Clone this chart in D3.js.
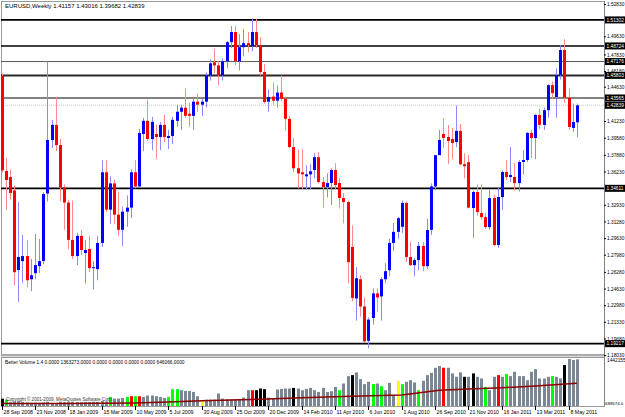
<!DOCTYPE html>
<html>
<head>
<meta charset="utf-8">
<script src="https://cdn.jsdelivr.net/npm/d3@7"></script>
<style>
  body { margin: 0; background: #fff; }
  svg { display: block; font-family: "Liberation Sans", Arial, sans-serif; }
</style>
</head>
<body>
<svg id="chart" width="625" height="417"></svg>
<script>
// Weekly EURUSD candles, 28 Sep 2008 .. 22 May 2011 (one entry per week)
var opens = [1.4575,1.3633,1.3573,1.3440,1.2652,1.2740,1.2790,1.2560,1.2620,1.2690,
  1.2740,1.3410,1.3940,1.4088,1.3890,1.3470,1.3320,1.2950,1.2790,1.2990,
  1.2820,1.2860,1.2670,1.2660,1.2920,1.3620,1.3250,1.3510,1.3200,1.3050,
  1.3230,1.3270,1.3620,1.3480,1.4000,1.4130,1.3950,1.4000,1.3970,1.4090,
  1.3960,1.3980,1.4130,1.4220,1.4260,1.4200,1.4180,1.4320,1.4290,1.4320,
  1.4580,1.4710,1.4680,1.4580,1.4720,1.4910,1.5010,1.4720,1.4860,1.4900,
  1.4870,1.5010,1.4880,1.4614,1.4320,1.4370,1.4330,1.4410,1.4350,1.4150,
  1.3870,1.3660,1.3620,1.3580,1.3600,1.3643,1.3770,1.3524,1.3474,1.3514,
  1.3643,1.3514,1.3365,1.3325,1.2880,1.2370,1.2560,1.2290,1.1950,1.2176,
  1.2420,1.2390,1.2560,1.2650,1.2920,1.3030,1.3080,1.3316,1.2780,1.2700,
  1.2750,1.2890,1.2690,1.3050,1.3480,1.3790,1.4000,1.3970,1.3950,1.3920,
  1.4030,1.3700,1.3720,1.3266,1.3425,1.3216,1.3176,1.3077,1.3365,1.2899,
  1.3375,1.3623,1.3573,1.3573,1.3513,1.3722,1.3742,1.4010,1.3960,1.4188,
  1.4090,1.4236,1.4484,1.4366,1.4583,1.4832,1.4360,1.4059,1.41157];
var highs = [1.4600,1.3763,1.3650,1.3490,1.3326,1.3000,1.2950,1.2760,1.3010,1.2960,
  1.3420,1.4720,1.4140,1.4366,1.3950,1.3500,1.3350,1.3340,1.3020,1.3050,
  1.2950,1.2990,1.2740,1.2990,1.3740,1.3740,1.3580,1.3550,1.3430,1.3280,
  1.3390,1.3650,1.3740,1.4050,1.4160,1.4340,1.4170,1.4090,1.4120,1.4190,
  1.4040,1.4170,1.4290,1.4290,1.4450,1.4310,1.4350,1.4400,1.4350,1.4610,
  1.4740,1.4844,1.4720,1.4750,1.4920,1.5070,1.5070,1.4990,1.5040,1.5010,
  1.5144,1.5140,1.4960,1.4690,1.4440,1.4510,1.4480,1.4580,1.4370,1.4180,
  1.3960,1.3840,1.3850,1.3690,1.3700,1.3810,1.3820,1.3570,1.3610,1.3660,
  1.3710,1.3560,1.3415,1.3340,1.3094,1.2680,1.2600,1.2380,1.2180,1.2470,
  1.2470,1.2580,1.2720,1.2960,1.3118,1.3180,1.3340,1.3330,1.2930,1.2770,
  1.2930,1.2930,1.3160,1.3510,1.3790,1.4040,1.4160,1.4088,1.4060,1.4282,
  1.4100,1.3810,1.3790,1.3440,1.3500,1.3500,1.3220,1.3445,1.3400,1.3470,
  1.3640,1.3742,1.3870,1.3712,1.3740,1.3840,1.4020,1.4040,1.4200,1.4250,
  1.4260,1.4490,1.4520,1.4650,1.4880,1.4939,1.4450,1.4300,1.43016];
var lows = [1.3620,1.3247,1.3350,1.2500,1.2334,1.2520,1.2480,1.2440,1.2560,1.2620,
  1.2710,1.3330,1.3860,1.3830,1.3330,1.3050,1.2860,1.2760,1.2700,1.2800,
  1.2520,1.2630,1.2460,1.2550,1.2880,1.3230,1.3110,1.3110,1.2990,1.2890,
  1.3080,1.3170,1.3460,1.3470,1.3830,1.3930,1.3840,1.3750,1.3840,1.3920,
  1.3850,1.3900,1.4070,1.4040,1.4160,1.4070,1.4040,1.4220,1.4180,1.4260,
  1.4530,1.4600,1.4480,1.4530,1.4650,1.4850,1.4680,1.4630,1.4770,1.4810,
  1.4820,1.4850,1.4580,1.4300,1.4220,1.4290,1.4260,1.4330,1.4030,1.3860,
  1.3620,1.3460,1.3450,1.3450,1.3450,1.3560,1.3510,1.3270,1.3370,1.3296,
  1.3450,1.3260,1.3115,1.2520,1.2340,1.2150,1.2190,1.1930,1.1876,1.2110,
  1.2240,1.2150,1.2520,1.2590,1.2840,1.2960,1.3020,1.2730,1.2690,1.2590,
  1.2650,1.2640,1.2660,1.3000,1.3440,1.3790,1.3860,1.3700,1.3750,1.3870,
  1.3690,1.3560,1.3260,1.2970,1.3190,1.3150,1.3060,1.3050,1.2890,1.2870,
  1.3246,1.3543,1.3523,1.3440,1.3430,1.3600,1.3720,1.3760,1.3750,1.4050,
  1.4040,1.4160,1.4350,1.4160,1.4540,1.4310,1.4040,1.4020,1.39682];
var closes = [1.3640,1.3544,1.3415,1.2630,1.2781,1.2790,1.2550,1.2600,1.2700,1.2740,
  1.3405,1.3940,1.4090,1.3890,1.3470,1.3320,1.2950,1.2790,1.2990,1.2850,
  1.2850,1.2670,1.2680,1.2920,1.3620,1.3250,1.3510,1.3200,1.3050,1.3230,
  1.3270,1.3620,1.3480,1.4010,1.4130,1.3950,1.4120,1.3970,1.4090,1.3970,
  1.3980,1.4140,1.4220,1.4260,1.4180,1.4180,1.4320,1.4290,1.4320,1.4580,
  1.4700,1.4680,1.4580,1.4720,1.4910,1.5010,1.4720,1.4860,1.4900,1.4880,
  1.5010,1.4880,1.4614,1.4317,1.4365,1.4330,1.4410,1.4350,1.4150,1.3870,
  1.3660,1.3610,1.3600,1.3600,1.3630,1.3770,1.3524,1.3474,1.3514,1.3643,
  1.3494,1.3365,1.3325,1.2730,1.2375,1.2570,1.2290,1.1945,1.2160,1.2420,
  1.2380,1.2560,1.2640,1.2920,1.3030,1.3165,1.3316,1.2780,1.2700,1.2750,
  1.2890,1.2690,1.3048,1.3480,1.3790,1.3940,1.3960,1.3930,1.3910,1.4030,
  1.3700,1.3680,1.3270,1.3425,1.3226,1.3176,1.3077,1.3365,1.2899,1.3375,
  1.3623,1.3573,1.3593,1.3513,1.3722,1.3742,1.4010,1.3960,1.4188,1.4090,
  1.4236,1.4484,1.4405,1.4583,1.4832,1.4360,1.4069,1.4118,1.42839];

// Better Volume histogram (thousands) and bar colour codes
var volumes = [225,195,120,140,150,120,110,100,105,100,110,130,90,95,130,120,125,130,120,115,
  125,120,130,125,150,140,278,228,228,247,278,300,300,300,278,321,321,300,278,247,
  278,516,516,485,463,463,432,300,176,195,195,195,383,228,207,207,207,207,259,485,
  485,485,537,516,259,228,506,525,537,537,556,537,485,525,556,485,432,556,432,454,
  587,485,690,917,948,1031,824,670,742,670,690,608,485,711,330,772,670,742,793,722,
  485,772,948,1020,1173,1225,1173,1173,1000,896,1031,896,896,1000,896,846,587,485,896,948,
  896,979,917,1050,917,917,793,1050,1133,846,846,896,917,896,846,1257,1442.155,1411,1432];
var volColors = ('kgssssssssssssssssssssssssgsssgrgrssssssgggsssssysssssssssss' +
  'rkkksssssskssssssssssgsskssssgsgsssygsssgsssssrsssskskssgssrsg' +
  'ssssssssssgsskssss').split('');
var volMaBars = [0, 16, 32, 40, 48, 60, 72, 84, 96, 105, 112, 120, 128, 138];
var volMaValues = [75, 75, 90, 120, 160, 200, 250, 300, 340, 480, 520, 560, 610, 700];

var levels = [1.51302, 1.48724, 1.47176, 1.45803, 1.43565, 1.34611, 1.19217];
var levelColors = ['#000', '#000', '#555', '#2a2a2a', '#5a5a5a', '#000', '#000'];
var levelWidths = [1.6, 1.6, 1, 2, 1.5, 1.6, 1.6];
var lastPrice = 1.42839;
var priceTicks = ['1.52830', '1.49630', '1.47830', '1.46180', '1.44630', '1.41230', '1.39580',
  '1.37880', '1.36230', '1.32930', '1.31280', '1.29630', '1.27980', '1.26280', '1.24630',
  '1.22980', '1.21330', '1.19680', '1.18030'];
var dateBars = [0, 8, 16, 24, 32, 40, 48, 56, 64, 72, 80, 88, 96, 104, 112, 120, 128, 136];
var dateLabels = ['28 Sep 2008', '23 Nov 2008', '18 Jan 2009', '15 Mar 2009', '10 May 2009',
  '5 Jul 2009', '30 Aug 2009', '25 Oct 2009', '20 Dec 2009', '14 Feb 2010', '11 Apr 2010',
  '6 Jun 2010', '1 Aug 2010', '26 Sep 2010', '21 Nov 2010', '16 Jan 2011', '13 Mar 2011',
  '8 May 2011'];
var titleText = 'EURUSD,Weekly  1.41157 1.43016 1.39682 1.42839';
var volumeText = 'Better Volume 1.4 0.0000 1363273.0000 0.0000 0.0000 0.0000 0.0000 646066.0000';

// Layout
var plotLeft = 1, plotRight = 604;
var mainTop = 1, mainBottom = 354;
var volTop = 357, volBottom = 406;
var axisFont = 4.8;

var colorMap = { s: '#7b8794', g: '#00ff00', r: '#ff0000', k: '#000000', y: '#ffff00' };

var svg = d3.select('#chart');

var x = d3.scaleLinear().domain([0, opens.length - 1]).range([1.5, 576.9]);
var y = d3.scaleLinear().domain([1.18192, 1.53078]).range([mainBottom, 2]);
var yv = d3.scaleLinear().domain([0, 1442.155]).range([volBottom, 359]);

var bars = d3.range(opens.length);

// Panel frames
svg.append('rect')
  .attr('x', plotLeft + 0.5).attr('y', mainTop + 0.5)
  .attr('width', plotRight - plotLeft).attr('height', mainBottom - mainTop)
  .attr('fill', 'none').attr('stroke', '#9a9a9a');
svg.append('rect')
  .attr('x', plotLeft + 0.5).attr('y', volTop + 0.5)
  .attr('width', plotRight - plotLeft).attr('height', volBottom - volTop)
  .attr('fill', 'none').attr('stroke', '#9a9a9a');
svg.append('line')
  .attr('x1', plotLeft).attr('x2', plotRight)
  .attr('y1', 355.5).attr('y2', 355.5)
  .attr('stroke', '#b0b0b0').attr('stroke-width', 2);

// Bid line
svg.append('line')
  .attr('x1', plotLeft).attr('x2', plotRight)
  .attr('y1', y(lastPrice)).attr('y2', y(lastPrice))
  .attr('stroke', '#c8c8c8').attr('stroke-dasharray', '1,1');

// Horizontal levels
svg.append('g')
  .selectAll('line')
  .data(levels)
  .enter()
  .append('line')
  .attr('x1', plotLeft).attr('x2', plotRight)
  .attr('y1', function(d) { return y(d); })
  .attr('y2', function(d) { return y(d); })
  .attr('stroke', function(d, i) { return levelColors[i]; })
  .attr('stroke-width', function(d, i) { return levelWidths[i]; });

// Candles
var candles = svg.append('g').selectAll('.candle')
  .data(bars)
  .enter()
  .append('g')
  .classed('candle', true);

candles.append('line')
  .attr('x1', function(i) { return Math.round(x(i)) + 0.5; })
  .attr('x2', function(i) { return Math.round(x(i)) + 0.5; })
  .attr('y1', function(i) { return y(highs[i]); })
  .attr('y2', function(i) { return y(lows[i]); })
  .attr('stroke', function(i) { return closes[i] >= opens[i] ? '#8a8aff' : '#ff8a8a'; })
  .attr('stroke-width', 1);

candles.append('rect')
  .attr('x', function(i) { return Math.round(x(i)) - 1; })
  .attr('width', 3)
  .attr('y', function(i) { return y(Math.max(opens[i], closes[i])); })
  .attr('height', function(i) { return Math.max(1, Math.abs(y(opens[i]) - y(closes[i]))); })
  .attr('fill', function(i) { return closes[i] >= opens[i] ? '#0000ff' : '#ff0000'; });

// Volume histogram
svg.append('g').selectAll('rect')
  .data(bars)
  .enter()
  .append('rect')
  .attr('x', function(i) { return Math.round(x(i)) - 1; })
  .attr('width', 3)
  .attr('y', function(i) { return yv(volumes[i]); })
  .attr('height', function(i) { return volBottom - yv(volumes[i]); })
  .attr('fill', function(i) { return colorMap[volColors[i]]; });

var maLine = d3.line()
  .x(function(d, k) { return x(volMaBars[k]); })
  .y(function(d) { return yv(d); });

svg.append('path')
  .datum(volMaValues)
  .attr('d', maLine)
  .attr('fill', 'none')
  .attr('stroke', '#8b0000')
  .attr('stroke-width', 1.5);

svg.append('text')
  .attr('x', 6).attr('y', 401)
  .attr('font-size', 4.6).attr('fill', '#333')
  .text('Copyright \u00a9 2001-2009, MetaQuotes Software Corp.');

// Right price axis
svg.append('line')
  .attr('x1', plotRight + 0.5).attr('x2', plotRight + 0.5)
  .attr('y1', mainTop).attr('y2', volBottom)
  .attr('stroke', '#808080');

var tickG = svg.append('g').selectAll('g')
  .data(priceTicks)
  .enter()
  .append('g')
  .attr('transform', function(d) { return 'translate(0,' + y(+d) + ')'; });
tickG.append('line')
  .attr('x1', plotRight).attr('x2', plotRight + 2)
  .attr('stroke', '#000');
tickG.append('text')
  .attr('x', 607).attr('dy', '0.35em')
  .attr('font-size', axisFont).attr('fill', '#000')
  .text(function(d) { return d; });

var boxG = svg.append('g').selectAll('g')
  .data(levels.concat([lastPrice]))
  .enter()
  .append('g')
  .attr('transform', function(d) { return 'translate(0,' + y(d) + ')'; });
boxG.append('rect')
  .attr('x', 605).attr('y', -3.5).attr('width', 20).attr('height', 7)
  .attr('fill', '#000');
boxG.append('text')
  .attr('x', 606.5).attr('dy', '0.35em')
  .attr('font-size', axisFont).attr('fill', '#fff')
  .text(function(d) { return d.toFixed(5); });

// Volume axis labels
svg.append('text')
  .attr('x', 607).attr('y', 362)
  .attr('font-size', axisFont).attr('fill', '#000')
  .text('1442155');
svg.append('text')
  .attr('x', 605).attr('y', 405)
  .attr('font-size', 4.4).attr('fill', '#000')
  .text('688574.0');

// Date axis
var dateG = svg.append('g').selectAll('g')
  .data(dateBars)
  .enter()
  .append('g')
  .attr('transform', function(d) { return 'translate(' + Math.round(x(d)) + ',0)'; });
dateG.append('line')
  .attr('x1', 0.5).attr('x2', 0.5)
  .attr('y1', volBottom).attr('y2', volBottom + 4)
  .attr('stroke', '#000');
dateG.append('text')
  .attr('x', 1.5).attr('y', 414)
  .attr('font-size', 5.2).attr('fill', '#000')
  .text(function(d, k) { return dateLabels[k]; });

// Titles
svg.append('text')
  .attr('x', 5).attr('y', 8)
  .attr('font-size', 6).attr('fill', '#000')
  .text(titleText);
svg.append('text')
  .attr('x', 5).attr('y', 364)
  .attr('font-size', 4.8).attr('fill', '#000')
  .text(volumeText);
</script>
</body>
</html>
